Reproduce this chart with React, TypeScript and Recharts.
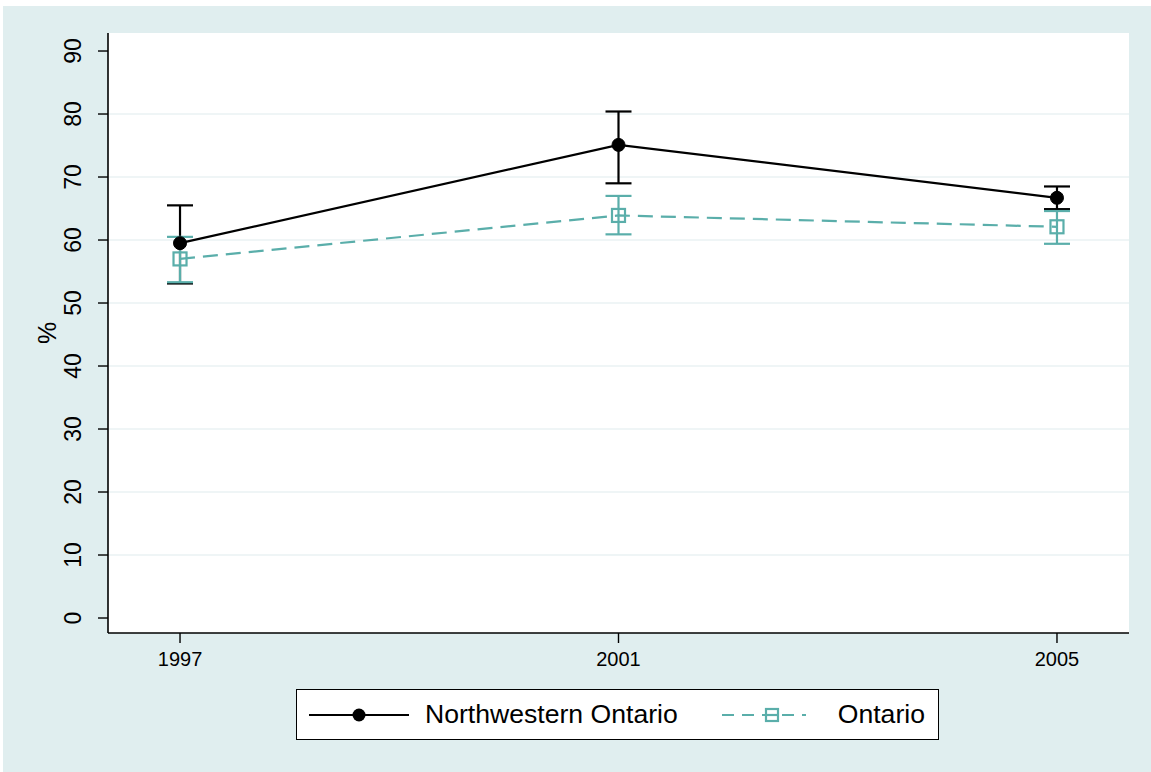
import {
  CartesianGrid,
  ComposedChart,
  ErrorBar,
  Label,
  Legend,
  Line,
  XAxis,
  YAxis,
} from "recharts";

const years = [1997, 2001, 2005];
const nwValues = [59.5, 75.1, 66.7];
const nwLow = [53.1, 69.0, 64.9];
const nwHigh = [65.5, 80.4, 68.5];
const onValues = [57.0, 63.9, 62.1];
const onLow = [53.3, 60.9, 59.4];
const onHigh = [60.5, 67.0, 64.6];
const yTicks = [0, 10, 20, 30, 40, 50, 60, 70, 80, 90];
const gridLines = [10, 20, 30, 40, 50, 60, 70, 80];

const TEAL = "#5AAEAA";
const BG = "#E0EEEF";
const FONT = "'Liberation Sans', Arial, sans-serif";

const data = years.map((year, i) => ({
  year,
  nw: nwValues[i],
  nwErr: [nwValues[i] - nwLow[i], nwHigh[i] - nwValues[i]],
  on: onValues[i],
  onErr: [onValues[i] - onLow[i], onHigh[i] - onValues[i]],
}));

// y labels read bottom-to-top
function YTick({ x, y, payload }: any) {
  return (
    <text
      transform={`translate(${x - 15},${y}) rotate(-90)`}
      textAnchor="middle"
      fontFamily={FONT}
      fontSize={23}
      fill="#000"
    >
      {payload.value}
    </text>
  );
}

function XTick({ x, y, payload }: any) {
  return (
    <text x={x} y={y + 21} textAnchor="middle" fontFamily={FONT} fontSize={20} fill="#000">
      {payload.value}
    </text>
  );
}

function SquareDot({ cx, cy, index }: any) {
  return (
    <rect
      key={`sq-${index}`}
      x={cx - 6.5}
      y={cy - 6.5}
      width={13}
      height={13}
      fill="none"
      stroke={TEAL}
      strokeWidth={2.2}
    />
  );
}

function LegendBox() {
  return (
    <div
      style={{
        boxSizing: "border-box",
        width: 643,
        height: 51,
        border: "1.5px solid #000",
        background: "#fff",
        display: "flex",
        alignItems: "center",
        fontFamily: FONT,
        fontSize: 26.6,
        color: "#000",
        whiteSpace: "nowrap",
      }}
    >
      <svg width={100} height={20} style={{ marginLeft: 12 }}>
        <line x1={0} y1={10} x2={100} y2={10} stroke="#000" strokeWidth={2.2} />
        <circle cx={50} cy={10} r={6.5} fill="#000" />
      </svg>
      <span style={{ marginLeft: 16 }}>Northwestern Ontario</span>
      <svg width={84} height={20} style={{ marginLeft: 44 }}>
        <line x1={0} y1={10} x2={84} y2={10} stroke={TEAL} strokeWidth={2.2} strokeDasharray="12 8" />
        <rect x={44} y={4} width={12} height={12} fill="#fff" stroke={TEAL} strokeWidth={2.2} />
        <line x1={44} y1={10} x2={56} y2={10} stroke={TEAL} strokeWidth={2.2} />
      </svg>
      <span style={{ marginLeft: 32 }}>Ontario</span>
    </div>
  );
}

export default function App() {
  return (
    <div style={{ position: "fixed", left: 0, top: 0, width: 1151, height: 772, background: "#fff" }}>
      <div style={{ position: "absolute", left: 3, top: 6, right: 0, bottom: 0, background: BG }} />
      <ComposedChart
        width={1151}
        height={772}
        data={data}
        margin={{ top: 33, right: 22, bottom: 99, left: 48 }}
        style={{ position: "absolute", left: 0, top: 0 }}
      >
        <CartesianGrid
          vertical={false}
          horizontalValues={gridLines}
          stroke="#EAF2F3"
          strokeWidth={1.5}
          fill="#fff"
          fillOpacity={1}
        />
        <XAxis
          dataKey="year"
          type="number"
          domain={[1996.343, 2005.657]}
          ticks={years}
          allowDataOverflow
          height={40}
          tickSize={10}
          axisLine={{ stroke: "#000", strokeWidth: 1.6 }}
          tickLine={{ stroke: "#000", strokeWidth: 1.4 }}
          tick={<XTick />}
        />
        <YAxis
          type="number"
          domain={[-2.38, 92.86]}
          ticks={yTicks}
          allowDataOverflow
          width={60}
          tickSize={10}
          axisLine={{ stroke: "#000", strokeWidth: 1.6 }}
          tickLine={{ stroke: "#000", strokeWidth: 1.4 }}
          tick={<YTick />}
        >
          <Label
            content={({ viewBox }: any) => (
              <text
                transform={`translate(${viewBox.x + 8},${viewBox.y + viewBox.height / 2}) rotate(-90)`}
                textAnchor="middle"
                fontFamily={FONT}
                fontSize={25}
                fill="#000"
              >
                %
              </text>
            )}
          />
        </YAxis>
        <Legend
          layout="horizontal"
          verticalAlign="middle"
          wrapperStyle={{ left: 296, top: 689, width: 643, height: 51 }}
          content={() => <LegendBox />}
        />
        <Line
          dataKey="nw"
          name="Northwestern Ontario"
          stroke="#000"
          strokeWidth={2.2}
          dot={{ r: 6.5, fill: "#000", stroke: "#000", strokeWidth: 1 }}
          activeDot={false}
          isAnimationActive={false}
        >
          <ErrorBar dataKey="nwErr" direction="y" width={13} stroke="#000" strokeWidth={2.2} />
        </Line>
        <Line
          dataKey="on"
          name="Ontario"
          stroke={TEAL}
          strokeWidth={2.2}
          strokeDasharray="15 8"
          dot={<SquareDot />}
          activeDot={false}
          isAnimationActive={false}
        >
          <ErrorBar dataKey="onErr" direction="y" width={13} stroke={TEAL} strokeWidth={2.2} />
        </Line>
      </ComposedChart>
    </div>
  );
}
